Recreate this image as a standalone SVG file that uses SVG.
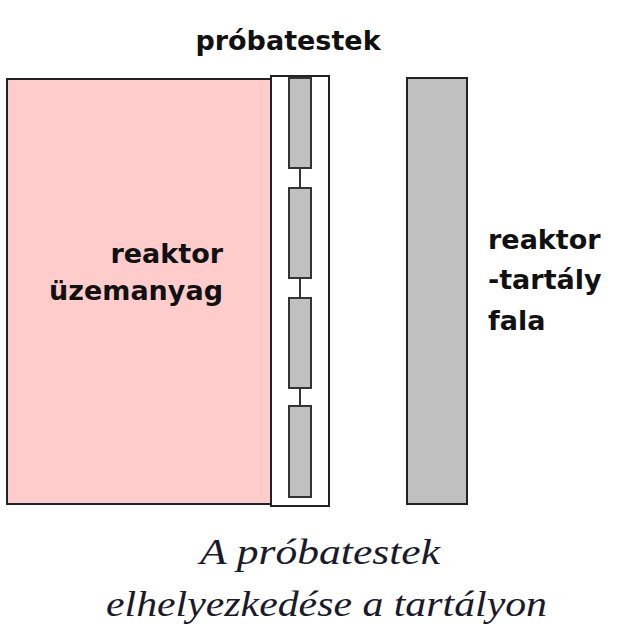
<svg xmlns="http://www.w3.org/2000/svg" width="632" height="641" viewBox="0 0 632 641">
<style>
.lbl{font-family:"DejaVu Sans","Verdana",sans-serif;font-weight:bold;font-size:27px;fill:#111}
.cap{font-family:"Liberation Serif","Times New Roman",serif;font-style:italic;font-size:35px;fill:#1a1a2a}
.spec{fill:#c0c0c0;stroke:#333;stroke-width:2}
.link{stroke:#333;stroke-width:2;fill:none}
</style>
<rect width="632" height="641" fill="#fff"/>
<g id="fuel">
<rect x="7" y="79" width="264" height="425" fill="#ffcccc" stroke="#222" stroke-width="2"/>
<text class="lbl" x="223" y="263" text-anchor="end">reaktor</text>
<text class="lbl" x="223" y="300" text-anchor="end">üzemanyag</text>
</g>
<g id="holder">
<rect x="271" y="76" width="58" height="430" fill="#fff" stroke="#222" stroke-width="2"/>
<text class="lbl" x="288" y="50" text-anchor="middle">próbatestek</text>
</g>
<g id="specimen1"><rect class="spec" x="289" y="78" width="22" height="90"/></g>
<g id="specimen2"><rect class="spec" x="289" y="188" width="22" height="90"/></g>
<g id="specimen3"><rect class="spec" x="289" y="298" width="22" height="90"/></g>
<g id="specimen4"><rect class="spec" x="289" y="406" width="22" height="91"/></g>
<g id="connectors">
<line class="link" x1="300" y1="168" x2="300" y2="188"/>
<line class="link" x1="300" y1="278" x2="300" y2="298"/>
<line class="link" x1="300" y1="388" x2="300" y2="406"/>
</g>
<g id="wall">
<rect x="407" y="78" width="60" height="426" fill="#c0c0c0" stroke="#222" stroke-width="2"/>
<text class="lbl" x="488" y="249">reaktor</text>
<text class="lbl" x="488" y="289">-tartály</text>
<text class="lbl" x="488" y="330">fala</text>
</g>
<g id="caption">
<text class="cap" x="200" y="564" textLength="240" lengthAdjust="spacingAndGlyphs">A próbatestek</text>
<text class="cap" x="106" y="616" textLength="441" lengthAdjust="spacingAndGlyphs">elhelyezkedése a tartályon</text>
</g>
</svg>
